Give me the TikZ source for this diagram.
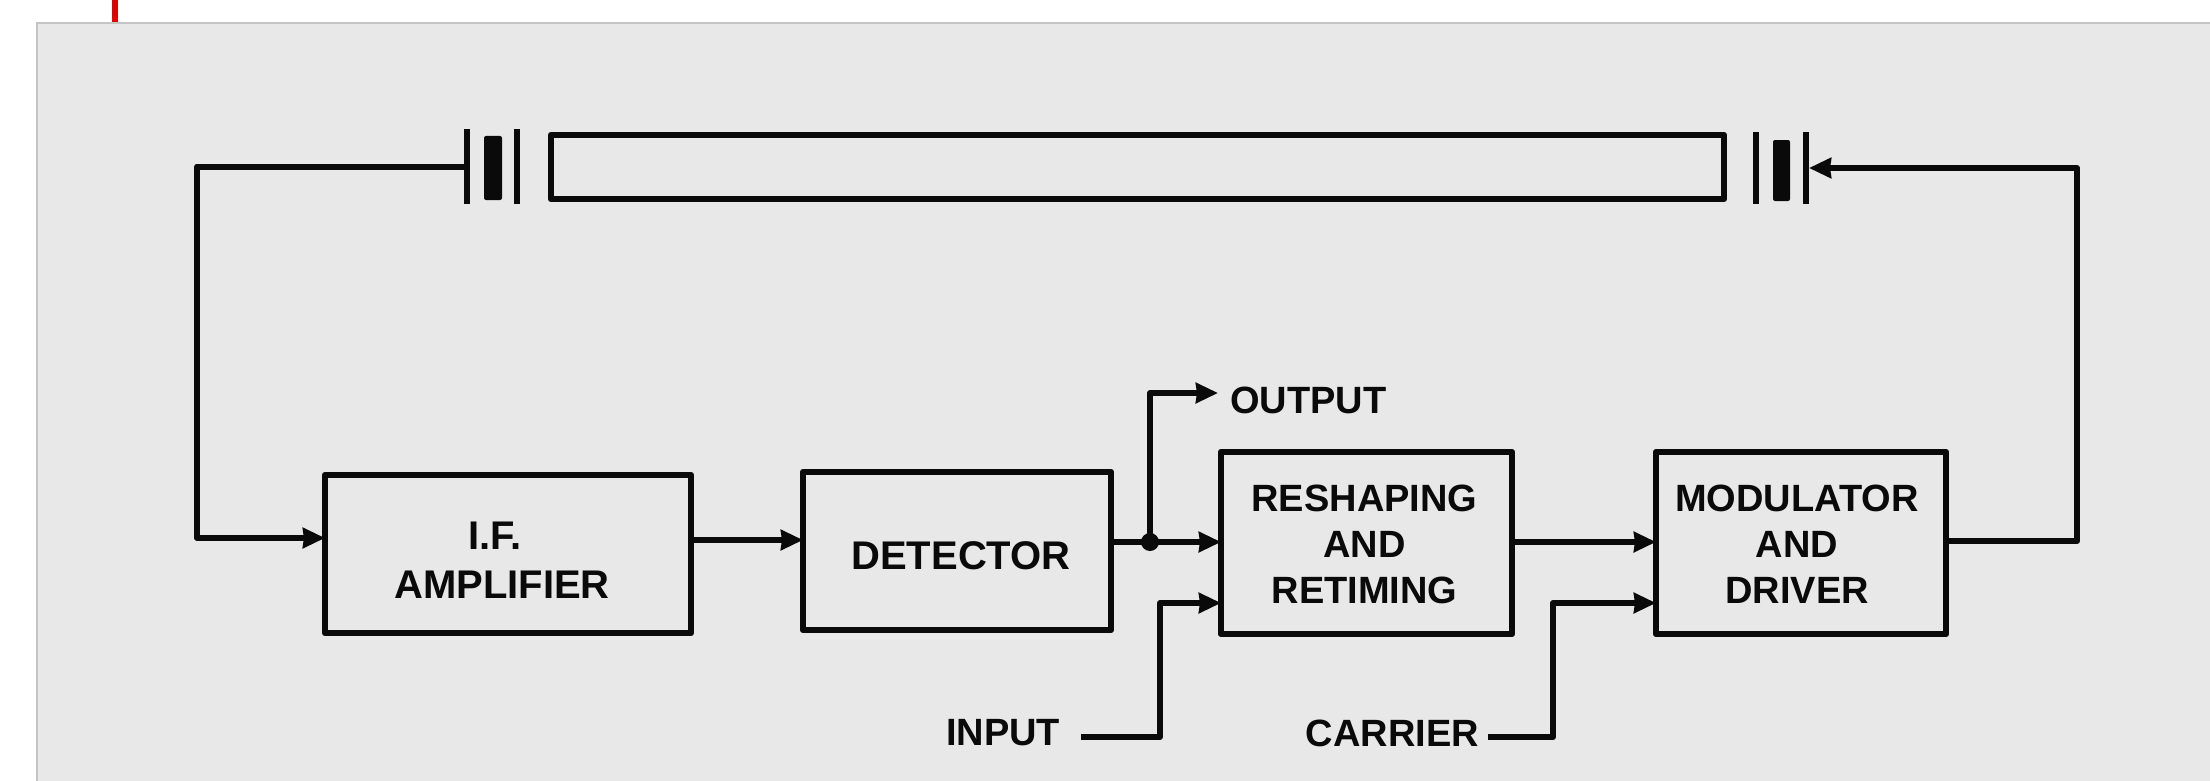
\documentclass[tikz,border=0pt]{standalone}
\usepackage{fontspec}
\setmainfont{Liberation Sans}
\usetikzlibrary{arrows.meta}
\definecolor{bgc}{HTML}{E8E8E8}
\definecolor{edgec}{HTML}{C4C4C4}
\definecolor{redc}{HTML}{E00000}
\definecolor{inkc}{HTML}{0A0A0A}
\tikzset{
  x=1pt,y=-1pt,
  lbl/.style={font=\fontsize{38}{46}\selectfont\bfseries,text=inkc,align=center,inner sep=0pt,outer sep=0pt},
  lblwide/.style={lbl,font=\fontsize{40}{46}\selectfont\bfseries},
  blockbox/.style={draw=inkc,line width=6.5pt,line join=round,inner sep=0pt,outer sep=0pt,minimum width=#1},
  plate/.style={fill=inkc,draw=none,inner sep=0pt,outer sep=0pt,minimum width=6pt},
  slug/.style={fill=inkc,draw=none,rounded corners=2pt,inner sep=0pt,outer sep=0pt},
  conn/.style={draw=inkc,line width=6pt,line join=round},
  flow/.style={conn,-{Stealth[inset=1pt,length=22pt,width=20pt]}},
}
\begin{document}
\begin{tikzpicture}
\useasboundingbox (0,0) rectangle (2210,781);
\fill[bgc] (37,23) rectangle (2210,781);
\draw[edgec,line width=2pt] (37,781) -- (37,23) -- (2210,23);
\fill[redc] (112,0) rectangle (118,22);

% delay line
\node[blockbox=1173pt,minimum height=64pt] (tube) at (1137.5,167) {};
\node[plate,minimum height=75pt] (la) at (467,166.5) {};
\node[slug,minimum width=18pt,minimum height=64pt] (lb) at (493,168) {};
\node[plate,minimum height=75pt] (lc) at (516.5,166.5) {};
\node[plate,minimum height=72pt] (ra) at (1756,168) {};
\node[slug,minimum width=17pt,minimum height=61pt] (rb) at (1781.5,170.5) {};
\node[plate,minimum height=72pt] (rc) at (1806,168) {};

% blocks
\node[blockbox=366pt,minimum height=158pt,label={[lblwide,shift={(-6,6)},align=center]center:{I.F.\hspace*{14pt}\\[3pt]AMPLIFIER}}] (amp) at (508,554) {};
\node[blockbox=308pt,minimum height=158pt,label={[lblwide,shift={(4,5)}]center:{DETECTOR}}] (det) at (957,551) {};
\node[blockbox=291pt,minimum height=182pt,label={[lbl,shift={(-2,1)}]center:{RESHAPING\\AND\\RETIMING}}] (res) at (1366.5,543) {};
\node[blockbox=290pt,minimum height=182pt,label={[lbl,shift={(-4,1)}]center:{MODULATOR\\AND\\DRIVER}}] (mod) at (1801,543) {};

% labels
\node[lbl,anchor=west] (out) at (1230,400) {OUTPUT};
\node[lbl,anchor=east] (inp) at (1060,733) {INPUT};
\node[lbl,anchor=east] (car) at (1479,733) {CARRIER};

% connectors
\draw[flow] (la.west) -- (197,166.5) -- (197,538) -- ([yshift=16pt]amp.west);
\draw[flow] ([yshift=14pt]amp.east) -- ([yshift=11pt]det.west);
\draw[flow] ([yshift=9pt]det.east) -- ([yshift=1pt]res.west);
\draw[flow] ([xshift=21pt,yshift=-4pt]inp.east) -- (1160,737) -- (1160,603) -- ([yshift=-60pt]res.west);
\draw[flow] ([yshift=1pt]res.east) -- ([yshift=1pt]mod.west);
\draw[flow] ([xshift=9pt,yshift=-4pt]car.east) -- (1553,737) -- (1553,603) -- ([yshift=-60pt]mod.west);
\draw[flow] ([yshift=2pt]mod.east) -- (2077,541) -- (2077,168) -- (rc.east);
\fill[inkc] (1150,542) circle (9pt);
\draw[flow] (1150,542) -- (1150,393) -- ([xshift=-12pt]out.west |- 0,393);
\end{tikzpicture}
\end{document}
